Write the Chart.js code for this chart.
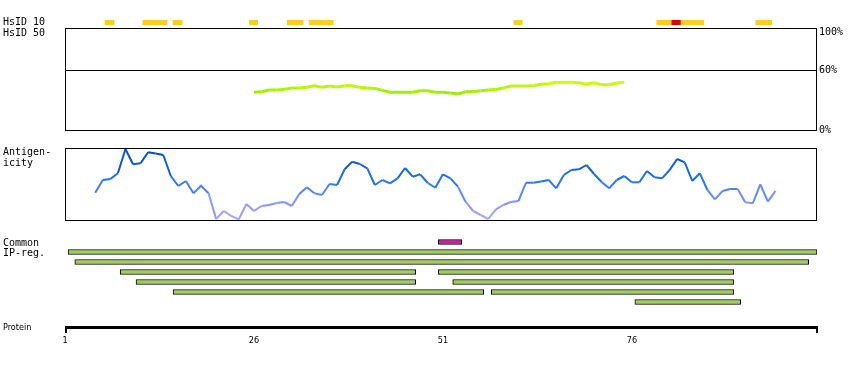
<!DOCTYPE html>
<html>
<head>
<meta charset="utf-8">
<script src="https://cdn.jsdelivr.net/npm/chart.js@4/dist/chart.umd.min.js"></script>
<style>
  html, body { margin: 0; padding: 0; background: #fff; }
  #wrap { position: relative; width: 850px; height: 370px; }
  #wrap canvas { position: absolute; left: 0; top: 0; }
</style>
</head>
<body>
<div id="wrap">
  <canvas id="hsidChart" width="850" height="370"></canvas>
  <canvas id="simChart" width="850" height="370"></canvas>
  <canvas id="agChart" width="850" height="370"></canvas>
  <canvas id="ipChart" width="850" height="370"></canvas>
  <canvas id="protChart" width="850" height="370"></canvas>
</div>
<script>
// protein length axis (residues)
const RES_MIN = 1;
const RES_MAX = 100.5;
const proteinTicks = [1, 26, 51, 76];

// HsID 10 hits: start/end residue, 1 = strong hit (red)
const hsidStart = [6.3, 11.3, 15.3, 25.4, 30.4, 33.3, 60.4, 79.3, 81.3, 82.5, 92.4];
const hsidEnd = [7.5, 14.5, 16.5, 26.5, 32.5, 36.5, 61.5, 81.3, 82.5, 85.5, 94.5];
const hsidStrong = [0, 0, 0, 0, 0, 0, 0, 0, 1, 0, 0];

// HsID 50 similarity (%) from residue 26
const simStart = 26;
const simValues = [
  37.9, 38.5, 40.2, 40.2, 40.8, 42.2, 42.2, 43.0, 44.5, 43.0,
  44.2, 43.3, 44.5, 44.5, 42.8, 42.2, 41.8, 39.8, 37.9, 37.9,
  37.9, 37.9, 39.5, 39.5, 37.9, 37.9, 37.3, 36.2, 38.5, 38.5,
  39.5, 40.2, 40.6, 42.3, 44.2, 44.2, 44.2, 44.5, 46.0, 46.4,
  47.9, 47.9, 47.9, 47.5, 46.0, 47.5, 45.5, 45.5, 47.2, 47.9,
];
const simTicks = [0, 60, 100];

// antigenicity score from residue 5
const agStart = 5;
const agValues = [
  27.3, 40, 41, 46.7, 71, 55.7, 56.7, 67.7, 66.5, 65,
  44, 34, 39, 26.7, 34.3, 26.7, 1, 9, 4, 0.7,
  16, 9, 14, 15, 17, 18, 14, 26, 32.7, 26.7,
  25, 36, 35, 50.7, 58.3, 56, 51.7, 35, 40, 36.7,
  41.7, 52, 43.3, 45.7, 37, 32.3, 45.7, 41.7, 33.3, 18.3,
  9, 5, 1, 10.7, 15, 18, 19, 37.3, 37.3, 38.5,
  40, 31.7, 45, 50, 50.7, 55, 46, 38, 31.7, 40,
  44, 37.7, 37.7, 49, 42.7, 41.7, 50, 61, 57.7, 39,
  46.7, 30, 20.7, 29, 31, 31, 17.7, 16.7, 35.7, 18.3,
  29,
];

// common interpro regions
const ipRows = ["common", "r1", "r2", "r3", "r4", "r5", "r6"];
const ipRow = [0, 1, 2, 3, 3, 4, 4, 5, 5, 6];
const ipStart = [50.4, 1.4, 2.3, 8.3, 50.4, 10.4, 52.3, 15.3, 57.4, 76.4];
const ipEnd = [53.5, 100.5, 99.4, 47.4, 89.5, 47.4, 89.5, 56.4, 89.5, 90.4];

const W = 850, H = 370;
const MONO = '10px "DejaVu Sans Mono", monospace';
const NARROW = '9px "Liberation Sans Narrow", "DejaVu Sans Condensed", "DejaVu Sans", sans-serif';

function baseOptions(left, top, right, bottom, yMin, yMax) {
  return {
    responsive: false,
    animation: false,
    events: [],
    layout: { padding: { left: left, top: top, right: W - right, bottom: H - bottom } },
    plugins: { legend: { display: false }, tooltip: { enabled: false } },
    scales: {
      x: { type: "linear", min: RES_MIN, max: RES_MAX, display: false },
      y: { min: yMin, max: yMax, display: false },
    },
  };
}

function mix(a, b, t) {
  t = Math.max(0, Math.min(1, t));
  return a.map((v, i) => Math.round(v + (b[i] - v) * t));
}

function simColor(v) {
  const c = mix([150, 236, 0], [206, 255, 0], (v - 36) / 12);
  return `rgb(${c[0]},${c[1]},${c[2]})`;
}

function agColor(v) {
  const stops = [
    [0, [178, 168, 250]],
    [25, [110, 140, 255]],
    [40, [30, 115, 240]],
    [72, [0, 70, 175]],
  ];
  for (let i = 1; i < stops.length; i++) {
    if (v <= stops[i][0]) {
      const t = (v - stops[i - 1][0]) / (stops[i][0] - stops[i - 1][0]);
      const c = mix(stops[i - 1][1], stops[i][1], t);
      return `rgb(${c[0]},${c[1]},${c[2]})`;
    }
  }
  return "rgb(0,70,175)";
}

const boxPlugin = {
  id: "box",
  afterDraw(chart) {
    const a = chart.chartArea;
    const ctx = chart.ctx;
    ctx.save();
    ctx.strokeStyle = "#000";
    ctx.lineWidth = 1;
    ctx.strokeRect(a.left + 0.5, a.top + 0.5, a.right - a.left - 1, a.bottom - a.top);
    ctx.restore();
  },
};

// --- HsID 10 strip ---
const hsidOpts = baseOptions(65, 20, 817, 25);
hsidOpts.indexAxis = "y";
hsidOpts.scales.y = { type: "category", display: false };
new Chart(document.getElementById("hsidChart"), {
  type: "bar",
  data: {
    labels: ["HsID 10"],
    datasets: [{
      data: hsidStart.map((s, i) => ({ y: "HsID 10", x: [s, hsidEnd[i]] })),
      backgroundColor: hsidStrong.map((s) => (s ? "#DD0000" : "#FFCC22")),
      borderWidth: 0,
      barPercentage: 1,
      categoryPercentage: 1,
      grouped: false,
    }],
  },
  options: hsidOpts,
});

// --- HsID 50 similarity ---
new Chart(document.getElementById("simChart"), {
  type: "line",
  data: {
    datasets: [{
      data: simValues.map((v, i) => ({ x: simStart + i, y: v })),
      borderWidth: 3,
      pointRadius: 0,
      tension: 0,
      borderColor: simColor(42),
      segment: { borderColor: (c) => simColor((c.p0.parsed.y + c.p1.parsed.y) / 2) },
    }],
  },
  options: baseOptions(65, 28, 817, 130, 0, 102.5),
  plugins: [boxPlugin, {
    id: "simAxis",
    afterDraw(chart) {
      const ctx = chart.ctx;
      const a = chart.chartArea;
      const y = chart.scales.y;
      ctx.save();
      ctx.strokeStyle = "#000";
      ctx.lineWidth = 1;
      const y60 = Math.round(y.getPixelForValue(60)) + 0.5;
      ctx.beginPath();
      ctx.moveTo(a.left, y60);
      ctx.lineTo(a.right, y60);
      ctx.stroke();
      ctx.fillStyle = "#000";
      ctx.font = MONO;
      ctx.textBaseline = "middle";
      simTicks.forEach((t) => {
        let py = y.getPixelForValue(t);
        if (t === 100) py += 2;
        ctx.fillText(t + "%", a.right + 2, py);
      });
      ctx.fillText("HsID 10", 3, 22.5);
      ctx.fillText("HsID 50", 3, 33);
      ctx.restore();
    },
  }],
});

// --- Antigenicity ---
new Chart(document.getElementById("agChart"), {
  type: "line",
  data: {
    datasets: [{
      data: agValues.map((v, i) => ({ x: agStart + i, y: v })),
      borderWidth: 2,
      pointRadius: 0,
      tension: 0,
      borderColor: agColor(40),
      segment: { borderColor: (c) => agColor((c.p0.parsed.y + c.p1.parsed.y) / 2) },
    }],
  },
  options: baseOptions(65, 148, 817, 220, 0, 72),
  plugins: [boxPlugin, {
    id: "agLabel",
    afterDraw(chart) {
      const ctx = chart.ctx;
      ctx.save();
      ctx.fillStyle = "#000";
      ctx.font = MONO;
      ctx.textBaseline = "middle";
      ctx.fillText("Antigen-", 3, 152.5);
      ctx.fillText("icity", 3, 163);
      ctx.restore();
    },
  }],
});

// --- Common IP regions ---
const ipOpts = baseOptions(65, 237, 817, 307);
ipOpts.indexAxis = "y";
ipOpts.scales.y = { type: "category", display: false };
new Chart(document.getElementById("ipChart"), {
  type: "bar",
  data: {
    labels: ipRows,
    datasets: [{
      data: ipStart.map((s, i) => ({ y: ipRows[ipRow[i]], x: [s, ipEnd[i]] })),
      backgroundColor: ipRow.map((r) => (r === 0 ? "#CC2299" : "#A0CC60")),
      borderColor: "#000",
      borderWidth: 1,
      borderSkipped: false,
      barThickness: 5,
      grouped: false,
    }],
  },
  options: ipOpts,
  plugins: [{
    id: "ipLabel",
    afterDraw(chart) {
      const ctx = chart.ctx;
      ctx.save();
      ctx.fillStyle = "#000";
      ctx.font = MONO;
      ctx.textBaseline = "middle";
      ctx.fillText("Common", 3, 243);
      ctx.fillText("IP-reg.", 3, 253.5);
      ctx.restore();
    },
  }],
});

// --- Protein axis ---
new Chart(document.getElementById("protChart"), {
  type: "line",
  data: { datasets: [] },
  options: baseOptions(65, 320, 817, 330, 0, 1),
  plugins: [{
    id: "protAxis",
    afterDraw(chart) {
      const ctx = chart.ctx;
      const x = chart.scales.x;
      const x0 = Math.round(x.getPixelForValue(RES_MIN));
      const x1 = Math.round(x.getPixelForValue(RES_MAX));
      ctx.save();
      ctx.fillStyle = "#000";
      ctx.fillRect(x0, 326, x1 - x0 + 1, 3);
      ctx.fillRect(x0, 326, 2, 7);
      ctx.fillRect(x1 - 1, 326, 2, 7);
      ctx.font = NARROW;
      ctx.textBaseline = "middle";
      ctx.textAlign = "center";
      proteinTicks.forEach((t) => {
        ctx.fillText(String(t), Math.round(x.getPixelForValue(t)), 341);
      });
      ctx.textAlign = "left";
      ctx.fillText("Protein", 3, 328);
      ctx.restore();
    },
  }],
});
</script>
</body>
</html>
